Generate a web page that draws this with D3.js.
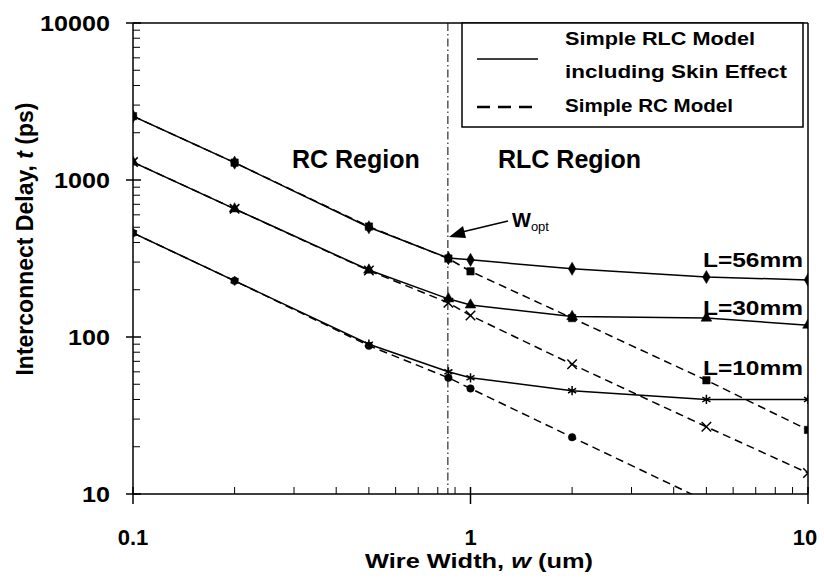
<!DOCTYPE html>
<html><head><meta charset="utf-8">
<script src="https://cdn.jsdelivr.net/npm/d3@7"></script>
<style>html,body{margin:0;padding:0;background:#fff}svg text{font-family:"Liberation Sans",Arial,sans-serif;font-weight:bold;fill:#000}</style>
</head><body><svg id="c" width="824" height="583"></svg>
<script>
const widths = [0.1, 0.2, 0.5, 0.86, 1, 2, 5, 10];
const rlc56 = [2550, 1290, 500, 318, 310, 272, 241, 231];
const rc56  = [2550, 1290, 505, 316, 262, 132, 53, 25.6];
const rlc30 = [1300, 655, 267, 175, 160, 135, 132, 119];
const rc30  = [1300, 655, 265, 165, 137, 67, 26.8, 13.6];
const rlc10 = [460, 228, 90, 60, 55, 45.5, 40, 40];
const rc10  = [460, 228, 88, 55, 47, 23, 9.0, 4.3];
const wopt = 0.857;
const xTickLabels = ["0.1", "1", "10"];
const yTickLabels = ["10", "100", "1000", "10000"];
const lengthLabels = ["L=56mm", "L=30mm", "L=10mm"];
const legendLabels = ["Simple RLC Model", "including Skin Effect", "Simple RC Model"];

const svg = d3.select("#c");
const x = d3.scaleLog().domain([0.1, 10]).range([133, 808]);
const y = d3.scaleLog().domain([10, 10000]).range([494, 23]);

svg.append("defs").append("clipPath").attr("id","clip")
  .append("rect").attr("x",133).attr("y",23).attr("width",675).attr("height",471);

// frame
svg.append("line").attr("x1",133).attr("x2",808).attr("y1",23).attr("y2",23).attr("stroke","#000").attr("stroke-width",1.5);
svg.append("line").attr("x1",808).attr("x2",808).attr("y1",23).attr("y2",494).attr("stroke","#000").attr("stroke-width",1.5);

// axes
const xMinor = [];
for (let d = 0.1; d < 10; d *= 10) for (let k = 2; k <= 9; k++) xMinor.push(+(d*k).toPrecision(3));
const yMinor = [];
for (let d = 10; d < 10000; d *= 10) for (let k = 2; k <= 9; k++) yMinor.push(d*k);

const gx = svg.append("g");
gx.append("line").attr("x1",133).attr("x2",808).attr("y1",494).attr("y2",494).attr("stroke","#000").attr("stroke-width",1.5);
gx.selectAll(".mi").data(xMinor).join("line").attr("x1",d=>x(d)).attr("x2",d=>x(d)).attr("y1",494).attr("y2",487).attr("stroke","#000");
gx.selectAll(".ma").data(xTickLabels).join("line").attr("x1",d=>x(+d)).attr("x2",d=>x(+d)).attr("y1",487).attr("y2",504).attr("stroke","#000").attr("stroke-width",1.5);
gx.selectAll("text").data(xTickLabels).join("text").attr("x",d=>x(+d)-(d==="10"?3:0)).attr("y",545)
  .attr("text-anchor","middle").attr("font-size",22).text(d=>d);

const gy = svg.append("g");
gy.append("line").attr("x1",133).attr("x2",133).attr("y1",23).attr("y2",494).attr("stroke","#000").attr("stroke-width",1.5);
gy.selectAll(".mi").data(yMinor).join("line").attr("x1",133).attr("x2",140).attr("y1",d=>y(d)).attr("y2",d=>y(d)).attr("stroke","#000");
gy.selectAll(".ma").data(yTickLabels).join("line").attr("x1",126).attr("x2",141).attr("y1",d=>y(+d)).attr("y2",d=>y(+d)).attr("stroke","#000").attr("stroke-width",1.5);
gy.selectAll("text").data(yTickLabels).join("text").attr("x",110).attr("y",d=>y(+d)+8)
  .attr("text-anchor","end").attr("font-size",22).attr("textLength",d=>d.length*14).attr("lengthAdjust","spacingAndGlyphs").text(d=>d);

// axis titles
const xt = svg.append("text").attr("x",365).attr("y",568).attr("font-size",20).attr("textLength",228).attr("lengthAdjust","spacingAndGlyphs");
xt.append("tspan").text("Wire Width, ");
xt.append("tspan").attr("font-style","italic").text("w");
xt.append("tspan").text(" (um)");
const yt = svg.append("text").attr("transform","translate(33,239) rotate(-90)").attr("text-anchor","middle").attr("font-size",23);
yt.append("tspan").text("Interconnect Delay, ");
yt.append("tspan").attr("font-style","italic").text("t");
yt.append("tspan").text(" (ps)");

// Wopt line
svg.append("line").attr("x1",x(wopt)).attr("x2",x(wopt)).attr("y1",23).attr("y2",494)
  .attr("stroke","#000").attr("stroke-width",1).attr("stroke-dasharray","8,3,1.5,3");

// series
const series = [
  {v: rlc56, dash: null, sym: d3.symbolDiamond, fill: true, size: 50},
  {v: rc56, dash: "8,5", sym: d3.symbolSquare, fill: true, size: 55},
  {v: rlc30, dash: null, sym: d3.symbolTriangle, fill: true, size: 50},
  {v: rc30, dash: "8,5", sym: d3.symbolTimes, fill: false, size: 60},
  {v: rlc10, dash: null, sym: d3.symbolAsterisk, fill: false, size: 60},
  {v: rc10, dash: "8,5", sym: d3.symbolCircle, fill: true, size: 45}
];
const line = d3.line().x(d=>x(d[0])).y(d=>y(d[1]));
const gs = svg.append("g").attr("clip-path","url(#clip)");
series.forEach(s => {
  const pts = widths.map((w,i)=>[w, s.v[i]]);
  gs.append("path").attr("d", line(pts)).attr("fill","none").attr("stroke","#000").attr("stroke-width",1.5)
    .attr("stroke-dasharray", s.dash);
  gs.selectAll(null).data(pts.filter(p=>p[1]>=10)).join("path")
    .attr("transform", p=>`translate(${x(p[0])},${y(p[1])})`)
    .attr("d", d3.symbol().type(s.sym).size(s.size))
    .attr("fill", s.fill ? "#000" : "none").attr("stroke","#000").attr("stroke-width", s.fill?0.5:1.5);
});

// region labels
svg.append("text").attr("x",292).attr("y",168).attr("font-size",25).text("RC Region");
svg.append("text").attr("x",498).attr("y",168).attr("font-size",25).text("RLC Region");

// length labels
const lY = [267, 315, 375];
svg.selectAll(".ll").data(lengthLabels).join("text").attr("x",703).attr("y",(d,i)=>lY[i])
  .attr("font-size",21).attr("textLength",100).attr("lengthAdjust","spacingAndGlyphs").text(d=>d);

// Wopt annotation
svg.append("line").attr("x1",508).attr("y1",221).attr("x2",462).attr("y2",232).attr("stroke","#000").attr("stroke-width",1.5);
svg.append("path").attr("d","M449,237 L463,226 L466,238 Z").attr("fill","#000");
const wt = svg.append("text").attr("x",512).attr("y",227).attr("font-size",20);
wt.append("tspan").text("W");
wt.append("tspan").attr("font-size",13).attr("dy",4).attr("font-weight","normal").text("opt");

// legend
svg.append("rect").attr("x",462).attr("y",23).attr("width",341).attr("height",104).attr("fill","#fff").attr("stroke","#000").attr("stroke-width",1.5);
svg.append("line").attr("x1",477).attr("x2",538).attr("y1",59).attr("y2",59).attr("stroke","#000").attr("stroke-width",1.5);
svg.append("line").attr("x1",477).attr("x2",538).attr("y1",107).attr("y2",107).attr("stroke","#000").attr("stroke-width",2.5).attr("stroke-dasharray","13,8");
const legY = [45, 78, 112];
const legW = [190, 222, 168];
svg.selectAll(".lg").data(legendLabels).join("text").attr("x",565).attr("y",(d,i)=>legY[i])
  .attr("font-size",19).attr("textLength",(d,i)=>legW[i]).attr("lengthAdjust","spacingAndGlyphs").text(d=>d);
</script></body></html>
